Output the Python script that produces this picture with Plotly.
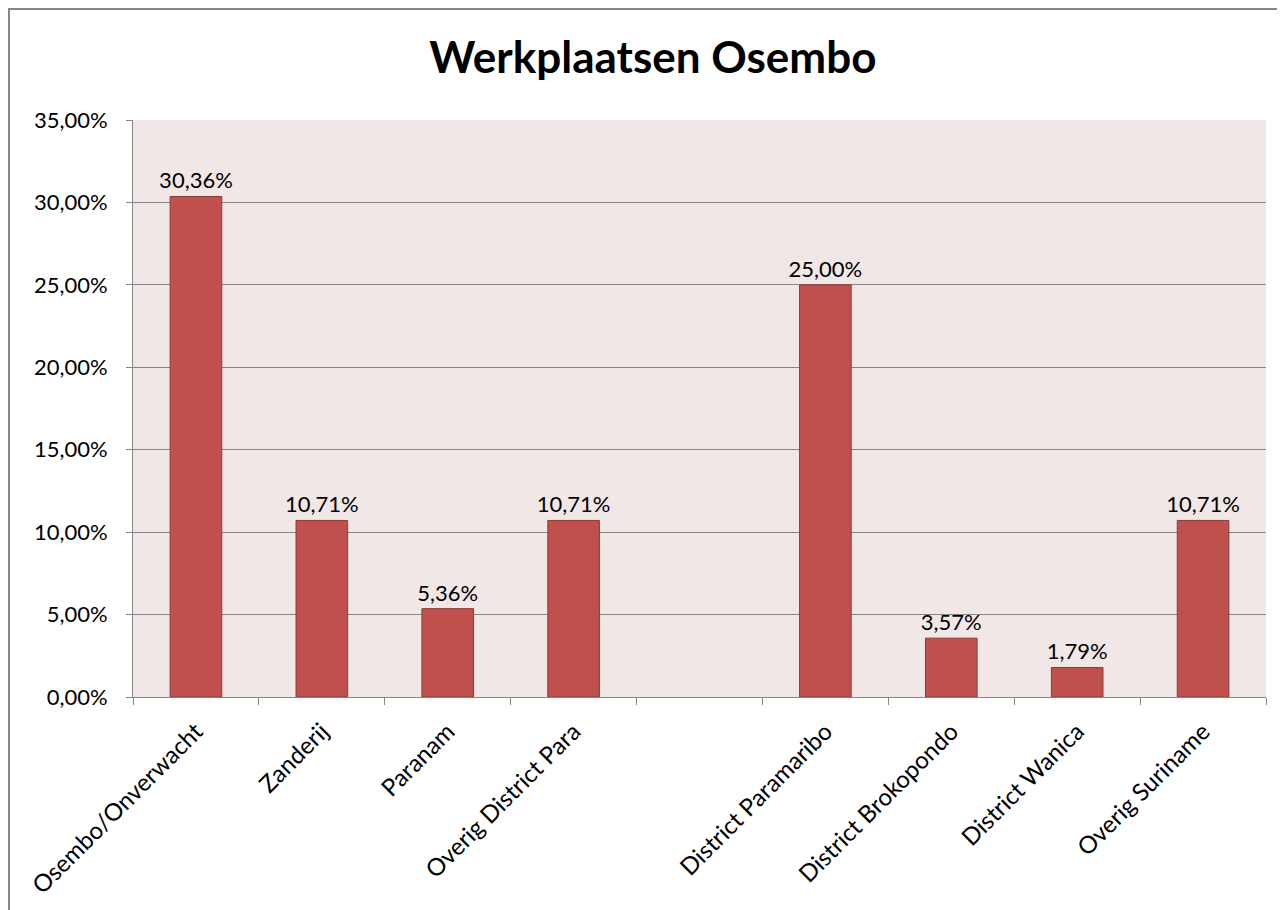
import plotly.graph_objects as go

# data
categories = ["Osembo/Onverwacht", "Zanderij", "Paranam", "Overig District Para", " ",
              "District Paramaribo", "District Brokopondo", "District Wanica", "Overig Suriname"]
shares = [0.3036, 0.1071, 0.0536, 0.1071, None, 0.25, 0.0357, 0.0179, 0.1071]

# page body adds 8px, so the figure is a bit smaller than the window
W, H = 1277, 902
L, R, T, B = 125, 19, 112, 213
pw = W - L - R
ph = H - T - B

fnt = "Lato, Calibri, 'Noto Sans', sans-serif"

fig = go.Figure(go.Bar(
    x=categories, y=shares,
    marker=dict(color="#C0504D", line=dict(color="#8C3A38", width=1)),
    width=0.41,
    texttemplate="%{y:.2%}", textposition="outside", constraintext="none",
    textfont=dict(size=22, color="#000000", family=fnt),
    cliponaxis=False,
))

fig.update_layout(
    width=W, height=H,
    margin=dict(l=L, r=R, t=T, b=B),
    separators=",.",
    paper_bgcolor="white",
    plot_bgcolor="#F2E7E7",
    font=dict(family=fnt, color="#000000"),
    title=dict(text="<b>Werkplaatsen Osembo</b>", xref="container", x=0.505, xanchor="center",
               y=1 - 50 / H, yanchor="middle", font=dict(size=44, family=fnt)),
    showlegend=False,
    shapes=[dict(type="rect", xref="paper", yref="paper",
                 x0=(1 - L) / pw, x1=(W + 10 - L) / pw,
                 y0=-(B + 10) / ph, y1=1 + (T - 1) / ph,
                 line=dict(color="#868686", width=2), layer="below")],
)
fig.update_xaxes(
    type="category", tickangle=-45, tickson="boundaries",
    ticks="outside", ticklen=7, tickcolor="#868686", tickwidth=1,
    showline=True, linecolor="#868686", linewidth=1, ticklabelstandoff=10,
    showgrid=False, tickfont=dict(size=24, family=fnt),
)
fig.update_yaxes(
    range=[0, 0.35], dtick=0.05, tickformat=".2%",
    ticks="outside", ticklen=6, tickcolor="#868686",
    showline=True, linecolor="#868686", linewidth=1, ticklabelstandoff=14,
    showgrid=True, gridcolor="#868686", gridwidth=1,
    zeroline=False, tickfont=dict(size=22, family=fnt),
)

fig.write_html("out.html")
